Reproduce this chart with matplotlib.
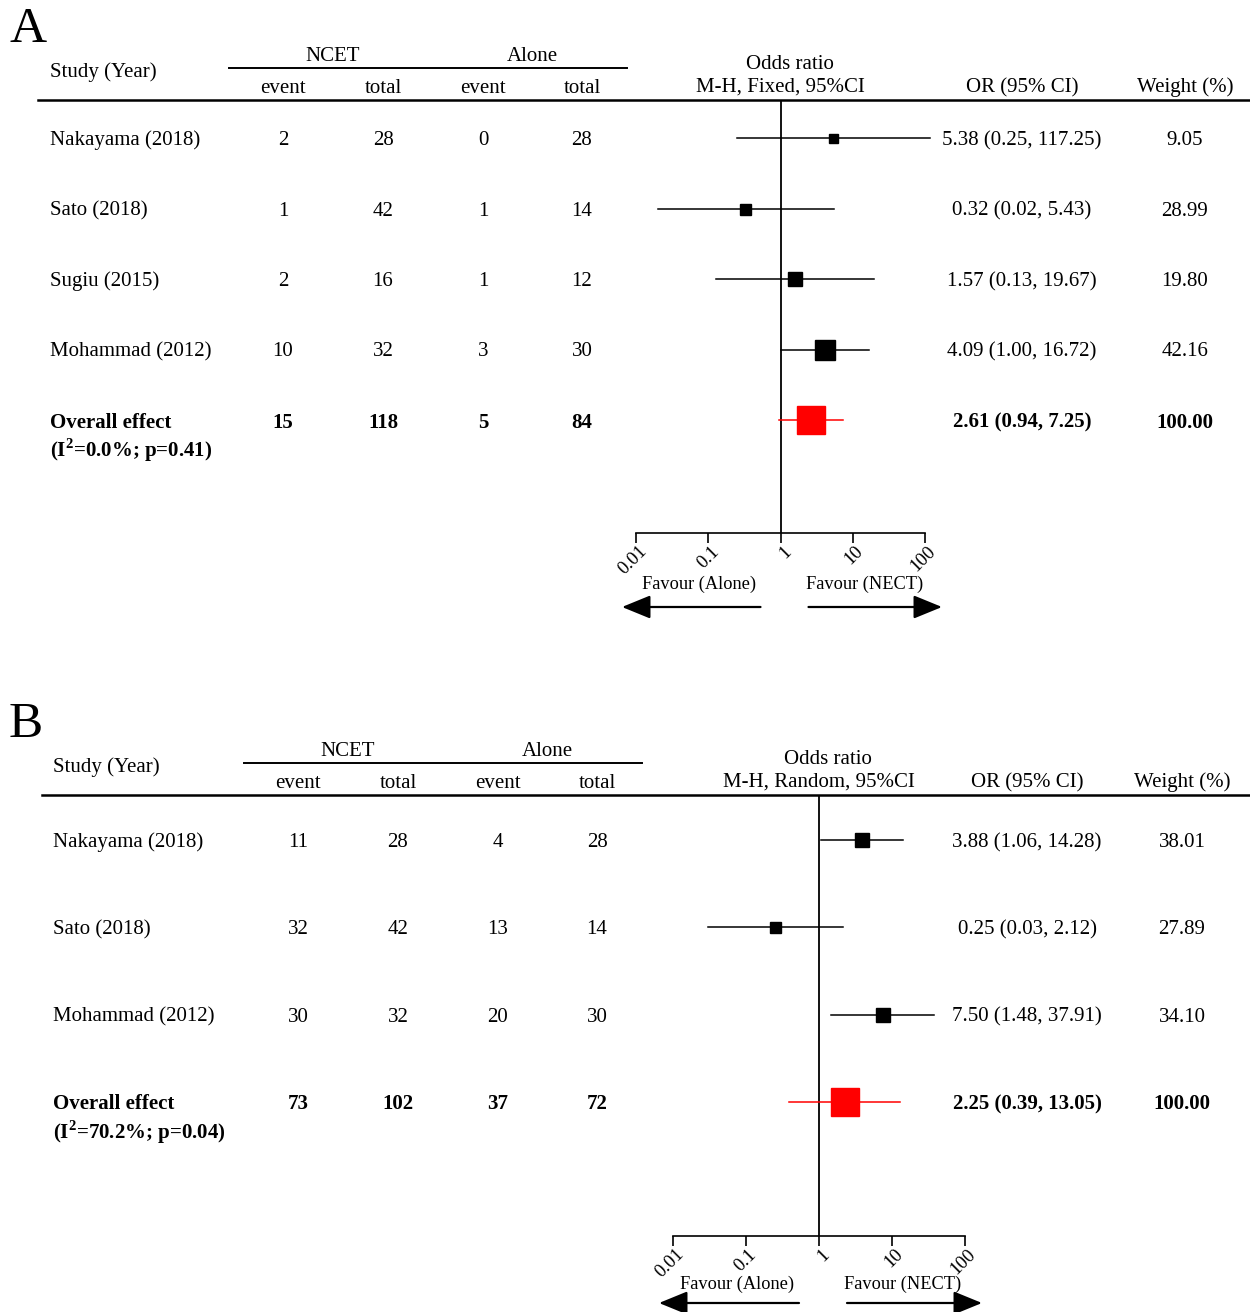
import matplotlib.pyplot as plt
from matplotlib.ticker import NullLocator
from matplotlib.transforms import ScaledTranslation

plt.rcParams["font.family"] = ["Liberation Serif", "DejaVu Serif"]
plt.rcParams["mathtext.fontset"] = "custom"
plt.rcParams["mathtext.rm"] = "Liberation Serif"
plt.rcParams["mathtext.bf"] = "Liberation Serif:bold"

# ---- panel A data (fixed effect) ----
studies_a = ["Nakayama (2018)", "Sato (2018)", "Sugiu (2015)", "Mohammad (2012)"]
ncet_event_a = [2, 1, 2, 10]
ncet_total_a = [28, 42, 16, 32]
alone_event_a = [0, 1, 1, 3]
alone_total_a = [28, 14, 12, 30]
or_a = [5.38, 0.32, 1.57, 4.09]
lo_a = [0.25, 0.02, 0.13, 1.00]
hi_a = [117.25, 5.43, 19.67, 16.72]
weight_a = [9.05, 28.99, 19.80, 42.16]
overall_counts_a = [15, 118, 5, 84]
overall_or_a = [2.61, 0.94, 7.25]
het_a = ["0.0%", "0.41"]

# ---- panel B data (random effect) ----
studies_b = ["Nakayama (2018)", "Sato (2018)", "Mohammad (2012)"]
ncet_event_b = [11, 32, 30]
ncet_total_b = [28, 42, 32]
alone_event_b = [4, 13, 20]
alone_total_b = [28, 14, 30]
or_b = [3.88, 0.25, 7.50]
lo_b = [1.06, 0.03, 1.48]
hi_b = [14.28, 2.12, 37.91]
weight_b = [38.01, 27.89, 34.10]
overall_counts_b = [73, 102, 37, 72]
overall_or_b = [2.25, 0.39, 13.05]
het_b = ["70.2%", "0.04"]

ticks = [0.01, 0.1, 1, 10, 100]
tick_labels = ["0.01", "0.1", "1", "10", "100"]

W, H = 1250, 1312
fig = plt.figure(figsize=(W / 100, H / 100), dpi=100)
bg = fig.add_axes([0, 0, 1, 1])
bg.set_xlim(0, W)
bg.set_ylim(H, 0)
bg.axis("off")

FS = 15
PX = 0.72  # points per pixel
TY = 2.5   # text vertical nudge


def panel(letter, dy, name_x, cdx, or_x, wt_x, line_x0, studies, ne, nt, ae, at,
          ors, los, his, wts, tot, ov, het, method, row0, step, boxes, ovbox,
          fx0, fx1, axis_y, vtop, fav_dy, arr_dy):
    def t(x, y, s, **kw):
        bg.text(x, y + TY, s, fontsize=kw.pop("fontsize", FS), va="center", **kw)

    bg.text(9, dy + 30, letter, fontsize=37, ha="left", va="center")
    cols = [283 + cdx, 383 + cdx, 483 + cdx, 582 + cdx]
    t(name_x, dy + 70, "Study (Year)")
    t((cols[0] + cols[1]) / 2, dy + 54, "NCET", ha="center")
    t((cols[2] + cols[3]) / 2, dy + 54, "Alone", ha="center")
    bg.plot([229 + cdx, 627 + cdx], [dy + 68, dy + 68], color="black", lw=1.4)
    for c, s in zip(cols, ["event", "total", "event", "total"]):
        t(c, dy + 86, s, ha="center")
    mid = (fx0 + fx1) / 2
    t(mid + 9, dy + 62, "Odds ratio", ha="center")
    t(mid, dy + 85, method, ha="center")
    t(or_x, dy + 85, "OR (95% CI)", ha="center")
    t(wt_x, dy + 85, "Weight (%)", ha="center")
    bg.plot([line_x0, W], [dy + 100, dy + 100], color="black", lw=1.8)

    for i, name in enumerate(studies):
        y = dy + row0 + i * step
        t(name_x, y, name)
        for c, v in zip(cols, [ne[i], nt[i], ae[i], at[i]]):
            t(c, y, str(v), ha="center")
        t(or_x, y, f"{ors[i]:.2f} ({los[i]:.2f}, {his[i]:.2f})", ha="center")
        t(wt_x, y, f"{wts[i]:.2f}", ha="center")
    yo = dy + row0 + len(studies) * step
    t(name_x, yo, "Overall effect", fontweight="bold")
    t(name_x, yo + 28, "(I$^{\\mathbf{2}}$=" + het[0] + "; p=" + het[1] + ")",
      fontweight="bold")
    for c, v in zip(cols, tot):
        t(c, yo, str(v), fontweight="bold", ha="center")
    t(or_x, yo, f"{ov[0]:.2f} ({ov[1]:.2f}, {ov[2]:.2f})", fontweight="bold", ha="center")
    t(wt_x, yo, "100.00", fontweight="bold", ha="center")

    top = dy + vtop
    bot = dy + axis_y
    ax = fig.add_axes([fx0 / W, 1 - bot / H, (fx1 - fx0) / W, (bot - top) / H])
    ax.set_xscale("log")
    ax.set_xlim(0.01, 100)
    ax.set_ylim(bot, top)
    ax.patch.set_alpha(0)
    for s in ["top", "left", "right"]:
        ax.spines[s].set_visible(False)
    ax.spines["bottom"].set_linewidth(1.2)
    ax.set_yticks([])
    ax.xaxis.set_minor_locator(NullLocator())
    ax.set_xticks(ticks)
    ax.set_xticklabels(tick_labels, rotation=45, ha="right", va="top",
                       rotation_mode="anchor", fontsize=13.5)
    ax.tick_params(axis="x", length=7, width=1.2, pad=0)
    shift = ScaledTranslation(2 / 100, 0, fig.dpi_scale_trans)
    for lab in ax.get_xticklabels():
        lab.set_transform(lab.get_transform() + shift)
    ax.axvline(1, color="black", lw=1.3)
    for i in range(len(studies)):
        y = dy + row0 + i * step
        ax.plot([los[i], his[i]], [y, y], color="black", lw=1.1, clip_on=False)
        ax.plot(ors[i], y, marker="s", ms=boxes[i] * PX, color="black", clip_on=False)
    ax.plot([ov[1], ov[2]], [yo, yo], color="red", lw=1.1, clip_on=False)
    ax.plot(ov[0], yo, marker="s", ms=ovbox * PX, color="red", clip_on=False)

    dec = (fx1 - fx0) / 4
    xone = fx0 + 2 * dec
    bg.text(xone - 82, bot + fav_dy, "Favour (Alone)", fontsize=13.2, ha="center", va="center")
    bg.text(xone + 84, bot + fav_dy, "Favour (NECT)", fontsize=13.2, ha="center", va="center")
    ar = dict(arrowstyle="-|>,head_length=1.1,head_width=0.45", color="black", lw=1.6,
              mutation_scale=16, shrinkA=0, shrinkB=0)
    bg.annotate("", xy=(fx0 - 14, bot + arr_dy), xytext=(xone - 20, bot + arr_dy), arrowprops=ar)
    bg.annotate("", xy=(fx1 + 17, bot + arr_dy), xytext=(xone + 28, bot + arr_dy), arrowprops=ar)


panel("A", 0, 50, 0, 1022, 1185, 38, studies_a, ncet_event_a, ncet_total_a,
      alone_event_a, alone_total_a, or_a, lo_a, hi_a, weight_a, overall_counts_a,
      overall_or_a, het_a, "M-H, Fixed, 95%CI", 138, 70.5, [9, 11, 14, 20], 28,
      636, 925, 533, 100, 51, 74)

panel("B", 695, 53, 15, 1027, 1182, 42, studies_b, ncet_event_b, ncet_total_b,
      alone_event_b, alone_total_b, or_b, lo_b, hi_b, weight_b, overall_counts_b,
      overall_or_b, het_b, "M-H, Random, 95%CI", 145, 87.3, [14, 11, 14], 28,
      673, 965, 541, 100, 48, 67)

fig.savefig("out.png", dpi=100)
